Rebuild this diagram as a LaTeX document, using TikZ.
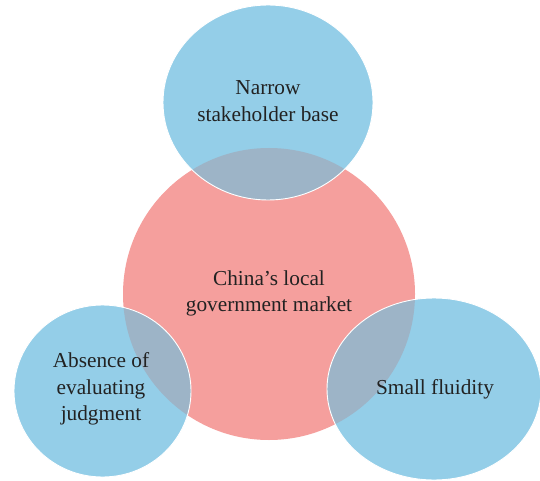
\documentclass[tikz,border=0pt]{standalone}
\usepackage{fontspec}
\setmainfont{Liberation Serif}
\definecolor{pinkfill}{HTML}{F59F9D}
\definecolor{bluefill}{HTML}{94CEE8}
\definecolor{mixfill}{HTML}{9DB4C7}
\definecolor{labeltext}{HTML}{222222}
\tikzset{
  label/.style={align=center, text=labeltext, font=\fontsize{21.3}{26.5}\selectfont, inner sep=0pt},
  rim/.style={draw=white, line width=0.9pt}
}
\begin{document}
\begin{tikzpicture}[x=1pt,y=-1pt]
\useasboundingbox (0,0) rectangle (540,481);
% central market circle
\fill[pinkfill] (269,294) circle [radius=146];
% surrounding factors
\fill[bluefill] (268,102.5) ellipse [x radius=105, y radius=97.5];
\fill[bluefill] (102.5,391) ellipse [x radius=88.5, y radius=86];
\fill[bluefill] (434,389) ellipse [x radius=107, y radius=91];
% overlaps with the central circle
\begin{scope}
  \clip (269,294) circle [radius=146];
  \fill[mixfill] (268,102.5) ellipse [x radius=105, y radius=97.5];
  \fill[mixfill] (102.5,391) ellipse [x radius=88.5, y radius=86];
  \fill[mixfill] (434,389) ellipse [x radius=107, y radius=91];
\end{scope}
\draw[rim] (268,102.5) ellipse [x radius=105, y radius=97.5];
\draw[rim] (102.5,391) ellipse [x radius=88.5, y radius=86];
\draw[rim] (434,389) ellipse [x radius=107, y radius=91];
% labels
\node[label] (narrow) at (268,101) {Narrow\\stakeholder base};
\node[label] (market) at (269,293.5) {China’s local\\government market};
\node[label] (absence) at (101,389) {Absence of\\evaluating\\judgment};
\node[label] (fluid) at (435,389) {Small fluidity};
\end{tikzpicture}
\end{document}
